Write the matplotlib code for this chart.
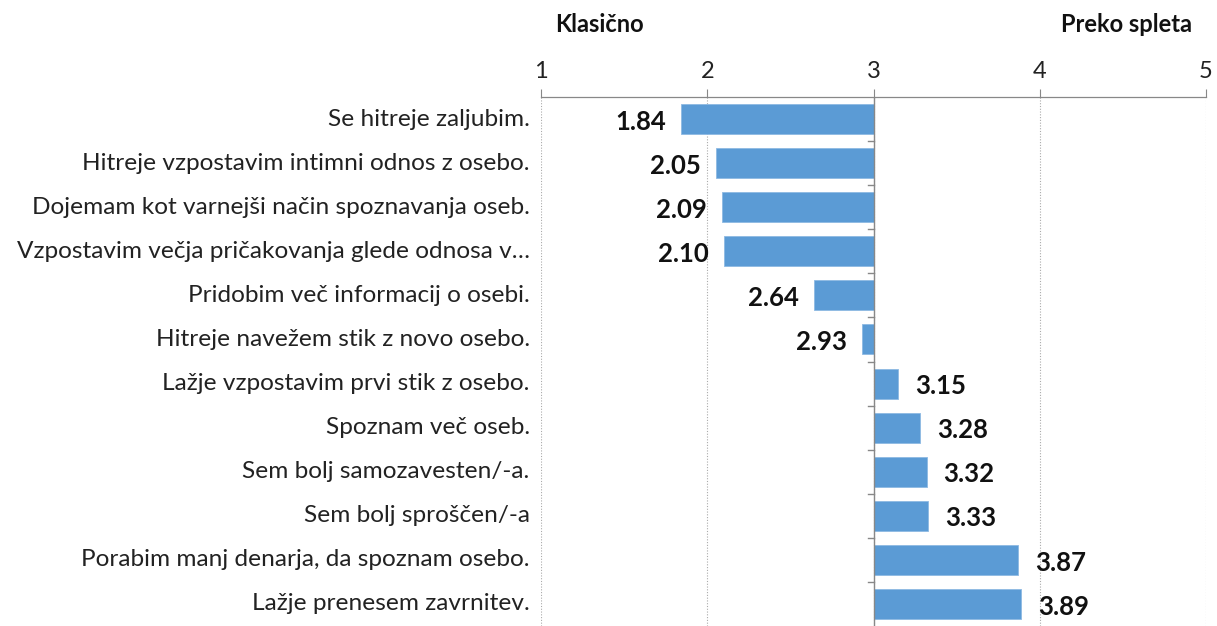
import numpy as np
import matplotlib.pyplot as plt

plt.rcParams['font.family'] = ['Lato', 'DejaVu Sans']

categories = [
    "Se hitreje zaljubim.",
    "Hitreje vzpostavim intimni odnos z osebo.",
    "Dojemam kot varnejši način spoznavanja oseb.",
    "Vzpostavim večja pričakovanja glede odnosa v…",
    "Pridobim več informacij o osebi.",
    "Hitreje navežem stik z novo osebo.",
    "Lažje vzpostavim prvi stik z osebo.",
    "Spoznam več oseb.",
    "Sem bolj samozavesten/-a.",
    "Sem bolj sproščen/-a",
    "Porabim manj denarja, da spoznam osebo.",
    "Lažje prenesem zavrnitev.",
]
values = [1.84, 2.05, 2.09, 2.10, 2.64, 2.93, 3.15, 3.28, 3.32, 3.33, 3.87, 3.89]
ticks = [1, 2, 3, 4, 5]
mid = 3

fig = plt.figure(figsize=(12.17, 6.26), dpi=100)
ax = fig.add_axes([0.4445, 0.0, 0.5465, 0.845])

y = np.arange(len(categories))
vals = np.array(values)
ax.barh(y, vals - mid, left=mid, height=0.68, color='#5B9BD5',
        edgecolor='#8DB9E3', linewidth=0.6, zorder=3)

ax.set_xlim(1, 5)
ax.set_ylim(len(categories) - 0.5, -0.5)

# top axis
ax.xaxis.tick_top()
ax.set_xticks(ticks)
ax.set_xticklabels([str(t) for t in ticks], fontsize=17, color='#222222')
ax.tick_params(axis='x', length=6, color='#888888', pad=5)
ax.grid(axis='x', linestyle=(0, (1, 1.5)), color='#AAAAAA', linewidth=0.8, zorder=0)

for s in ['bottom', 'left', 'right']:
    ax.spines[s].set_visible(False)
ax.spines['top'].set_color('#888888')
ax.spines['top'].set_linewidth(0.9)

# vertical axis line at 3 with category ticks
ax.axvline(mid, color='#888888', linewidth=1.0, zorder=4)
for b in np.arange(len(categories) - 1) + 0.5:
    ax.plot([mid - 0.035, mid], [b, b], color='#888888', linewidth=1.0,
            zorder=4, clip_on=False)

ax.set_yticks([])
for i, c in enumerate(categories):
    ax.text(-0.017, i, c, ha='right', va='center', fontsize=17.6,
            color='#222222', transform=ax.get_yaxis_transform())

for i, v in enumerate(values):
    if v < mid:
        ax.text(v - 0.09, i + 0.06, f"{v:.2f}", ha='right', va='center',
                fontsize=18.5, fontweight='bold', color='#111111')
    else:
        ax.text(v + 0.1, i + 0.06, f"{v:.2f}", ha='left', va='center',
                fontsize=18.5, fontweight='bold', color='#111111')

fig.text(555 / 1217, 1 - 25 / 626, "Klasično", ha='left', va='center',
         fontsize=17, fontweight='bold', color='#111111')
fig.text(1192 / 1217, 1 - 25 / 626, "Preko spleta", ha='right', va='center',
         fontsize=17, fontweight='bold', color='#111111')

fig.savefig('out.png', dpi=100)
